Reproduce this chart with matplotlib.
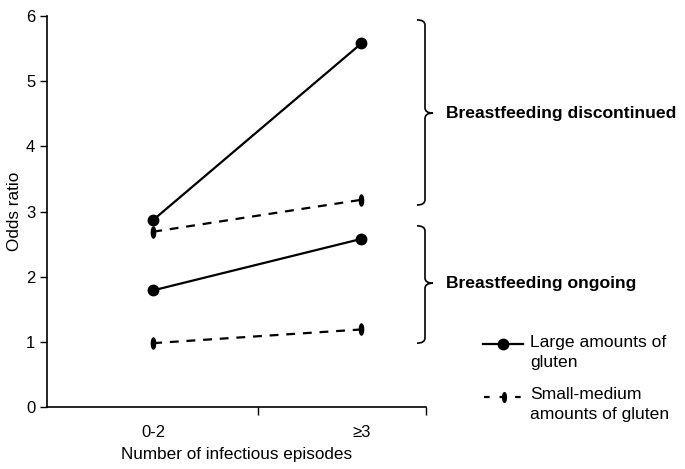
import matplotlib
matplotlib.use("Agg")
import matplotlib.pyplot as plt
import numpy as np
from matplotlib.path import Path
from matplotlib.patches import PathPatch
from matplotlib.lines import Line2D
import matplotlib.transforms as mtransforms

plt.rcParams['font.family'] = ['Liberation Sans', 'DejaVu Sans']

categories = ["0-2", "\u22653"]
large_discontinued = [2.87, 5.58]
large_ongoing = [1.79, 2.58]
small_discontinued = [2.69, 3.18]
small_ongoing = [0.98, 1.19]
y_ticks = [0, 1, 2, 3, 4, 5, 6]
legend_labels = ["Large amounts of\ngluten", "Small-medium\namounts of gluten"]

fig = plt.figure(figsize=(6.85, 4.69), dpi=100)
ax = fig.add_axes([47/685, 62/469, 379/685, 391/469])

# thin vertical ellipse marker
t = np.linspace(0, 2*np.pi, 40)
ell = Path(np.column_stack([0.38*np.cos(t), np.sin(t)]), closed=True)

x = np.arange(len(categories))
for vals in (large_discontinued, large_ongoing):
    ax.plot(x, vals, color='black', lw=1.6, marker='o', ms=7.5)
for vals in (small_discontinued, small_ongoing):
    ax.plot(x, vals, color='black', lw=1.6, ls=(0, (4, 3.5)), marker=ell, ms=8)

ax.set_xlim(-0.51, 1.31)
ax.set_ylim(0, 6)
ax.set_yticks(y_ticks)
ax.set_xticks(x)
ax.set_xticklabels(categories)
ax.tick_params(axis='x', length=0, pad=13, labelsize=12)
ax.set_xticks([0.505, 1.31], minor=True)
ax.tick_params(axis='x', which='minor', length=6, width=1)
ax.tick_params(axis='y', length=5, width=1, labelsize=12)
for s in ('top', 'right'):
    ax.spines[s].set_visible(False)
for s in ('left', 'bottom'):
    ax.spines[s].set_linewidth(1.2)
ax.set_ylabel("Odds ratio", fontsize=12.3, labelpad=3)
ax.set_xlabel("Number of infectious episodes", fontsize=12.3, labelpad=5)

# braces
tr = mtransforms.blended_transform_factory(fig.transFigure, ax.transData)
def brace(y0, y1, ym):
    xl = 417/685; xm = 425/685; xt = 433/685
    r = 0.08
    verts = [(xl, y1), (xm, y1), (xm, y1 - r),
             (xm, ym + r), (xm, ym), (xt, ym),
             (xm, ym), (xm, ym - r),
             (xm, y0 + r), (xm, y0), (xl, y0)]
    codes = [Path.MOVETO, Path.CURVE3, Path.CURVE3,
             Path.LINETO, Path.CURVE3, Path.CURVE3,
             Path.CURVE3, Path.CURVE3,
             Path.LINETO, Path.CURVE3, Path.CURVE3]
    p = PathPatch(Path(verts, codes), transform=tr, fill=False, lw=1.2,
                  color='black', clip_on=False)
    fig.add_artist(p)

brace(3.10, 5.94, 4.51)
brace(0.98, 2.78, 1.90)
fig.text(446/685, 4.51, "Breastfeeding discontinued", transform=tr,
         fontsize=12.6, fontweight='bold', va='center', ha='left')
fig.text(446/685, 1.90, "Breastfeeding ongoing", transform=tr,
         fontsize=12.6, fontweight='bold', va='center', ha='left')

# manual legend (figure pixel coords)
def fx(px): return px/685
def fy(py): return 1 - py/469
fig.add_artist(Line2D([fx(483), fx(523)], [fy(344), fy(344)], color='black', lw=1.6,
                      transform=fig.transFigure))
fig.add_artist(Line2D([fx(503)], [fy(344)], color='black', marker='o', ms=7.5,
                      transform=fig.transFigure))
fig.add_artist(Line2D([fx(484), fx(522)], [fy(397), fy(397)], color='black', lw=1.6,
                      ls=(0, (2.5, 4.5)), transform=fig.transFigure))
fig.add_artist(Line2D([fx(504)], [fy(397)], color='black', marker=ell, ms=7,
                      transform=fig.transFigure))
fig.text(fx(530), fy(335), legend_labels[0], fontsize=12.6, va='top', ha='left',
         linespacing=1.45)
fig.text(fx(530), fy(387), legend_labels[1], fontsize=12.6, va='top', ha='left',
         linespacing=1.45)

fig.savefig("out.png", dpi=100)
